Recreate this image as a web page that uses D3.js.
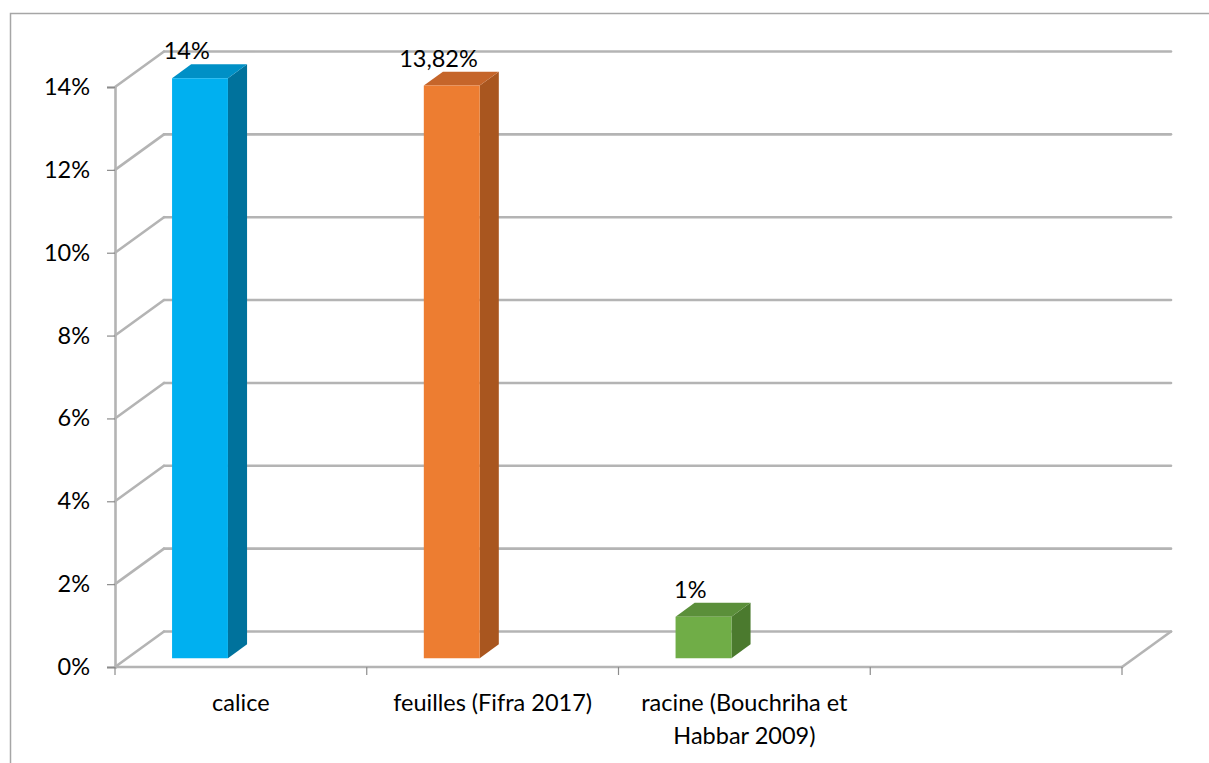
<!DOCTYPE html>
<html>
<head>
<meta charset="utf-8">
<script src="https://cdn.jsdelivr.net/npm/d3@7"></script>
<style>
  html, body { margin: 0; padding: 0; background: #ffffff; }
  svg { display: block; }
  text { font-family: Lato, "Open Sans", sans-serif; fill: #000; }
</style>
</head>
<body>
<svg id="chart" width="1209" height="763"></svg>
<script>
// Data
const categories = ["calice", "feuilles (Fifra 2017)", "racine (Bouchriha et Habbar 2009)", ""];
const values = [14, 13.82, 1, null];
const valueLabels = ["14%", "13,82%", "1%", ""];
const yTicks = [0, 2, 4, 6, 8, 10, 12, 14];
const yTickLabels = ["0%", "2%", "4%", "6%", "8%", "10%", "12%", "14%"];
const frontColors = ["#00b0f0", "#ed7d31", "#70ad47"];
const sideColors = ["#00729c", "#a9561f", "#4b7a2e"];
const topColors = ["#0090c6", "#c5652a", "#5b8f3a"];

// Layout
const W = 1209, H = 763;
const DX = 49, DY = -35.5;          // depth offset of the back wall
const BAR_Z0 = 0.25, BAR_Z1 = 0.64; // bar depth within the floor
const GRID = "#b4b4b4";
const FONT = 23.5;

const svg = d3.select("#chart");

const x = d3.scaleBand().domain(categories).range([115, 1122]).padding(0);
const y = d3.scaleLinear().domain([0, 14]).range([667, 87]);

// project a point (screen x on front plane, value, depth 0..1)
const P = (px, v, z) => [px + z * DX, y(v) + z * DY];

// chart frame
svg.append("path")
  .attr("d", `M10.5,${H} L10.5,13.5 L${W},13.5`)
  .attr("fill", "none").attr("stroke", "#a6a6a6").attr("stroke-width", 1.5);

const grid = svg.append("g").attr("fill", "none").attr("stroke", GRID)
  .attr("stroke-width", 2.6).attr("stroke-linecap", "round");

const x0 = x.range()[0], x1 = x.range()[1];

// back wall gridlines and left wall diagonals
yTicks.forEach(t => {
  const a = P(x0, t, 1), b = P(x1, t, 1), c = P(x0, t, 0);
  grid.append("line").attr("x1", a[0]).attr("y1", a[1]).attr("x2", b[0]).attr("y2", b[1]);
  grid.append("line").attr("x1", c[0]).attr("y1", c[1]).attr("x2", a[0]).attr("y2", a[1]);
});

// floor: front edge and right diagonal
{
  const f0 = P(x0, 0, 0), f1 = P(x1, 0, 0), b1 = P(x1, 0, 1);
  grid.append("line").attr("x1", f0[0]).attr("y1", f0[1]).attr("x2", f1[0]).attr("y2", f1[1]);
  grid.append("line").attr("x1", f1[0]).attr("y1", f1[1]).attr("x2", b1[0]).attr("y2", b1[1]);
}

// value axis on the front-left edge
const yAxis = d3.axisLeft(y).tickValues(yTicks)
  .tickFormat((d, i) => yTickLabels[i]).tickSize(8).tickPadding(17);
const yg = svg.append("g").attr("transform", `translate(${x0},0)`).call(yAxis);
yg.select(".domain").attr("stroke", GRID).attr("stroke-width", 2.6);
yg.selectAll(".tick line").attr("stroke", "#8c8c8c").attr("stroke-width", 1.2);
yg.selectAll(".tick text").attr("font-size", FONT).attr("font-family", "Lato, sans-serif").attr("fill", "#000");

// category separators below the floor
const edges = categories.map(c => x(c)).concat([x1]);
svg.append("g").selectAll("line").data(edges).join("line")
  .attr("x1", d => d).attr("x2", d => d)
  .attr("y1", y(0)).attr("y2", y(0) + 8)
  .attr("stroke", "#8c8c8c").attr("stroke-width", 1.2);

// bars
const barOff = 0.178, barW = 0.222;
const bars = svg.append("g");
categories.forEach((c, i) => {
  const v = values[i];
  if (v == null) return;
  const left = x(c) + x.bandwidth() * barOff;
  const right = left + x.bandwidth() * barW;
  const fbl = P(left, 0, BAR_Z0), fbr = P(right, 0, BAR_Z0);
  const ftl = P(left, v, BAR_Z0), ftr = P(right, v, BAR_Z0);
  const btl = P(left, v, BAR_Z1), btr = P(right, v, BAR_Z1), bbr = P(right, 0, BAR_Z1);
  const poly = pts => "M" + pts.map(p => p.join(",")).join("L") + "Z";
  bars.append("path").attr("d", poly([fbr, ftr, btr, bbr])).attr("fill", sideColors[i]);
  bars.append("path").attr("d", poly([ftl, ftr, btr, btl])).attr("fill", topColors[i]);
  bars.append("path").attr("d", poly([fbl, fbr, ftr, ftl])).attr("fill", frontColors[i]);

  // value label above the bar
  svg.append("text")
    .attr("x", (left + right) / 2 - 1)
    .attr("y", btl[1] - 5)
    .attr("text-anchor", "middle")
    .attr("font-size", FONT)
    .text(valueLabels[i]);
});

// category labels, wrapped to the band width
const catG = svg.append("g");
categories.forEach(c => {
  if (!c) return;
  const cx = x(c) + x.bandwidth() / 2;
  const t = catG.append("text")
    .attr("x", cx)
    .attr("y", 711)
    .attr("text-anchor", "middle")
    .attr("font-size", FONT);
  const words = c.split(" ");
  let line = [];
  let tspan = t.append("tspan").attr("x", cx).attr("dy", 0);
  words.forEach(w => {
    line.push(w);
    tspan.text(line.join(" "));
    if (tspan.node().getComputedTextLength() > 240 && line.length > 1) {
      line.pop();
      tspan.text(line.join(" "));
      line = [w];
      tspan = t.append("tspan").attr("x", cx).attr("dy", 33).text(w);
    }
  });
});
</script>
</body>
</html>
